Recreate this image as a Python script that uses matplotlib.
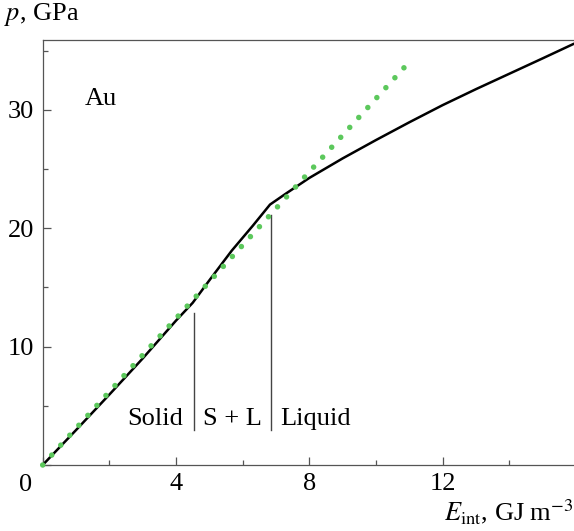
import matplotlib
matplotlib.use("Agg")
import matplotlib.pyplot as plt
from matplotlib.ticker import FixedLocator

plt.rcParams["font.family"] = ["Liberation Serif", "DejaVu Serif"]
plt.rcParams["mathtext.fontset"] = "stix"

# Measured pressure vs internal energy (Au)
e_meas = [0.0, 1.0, 2.0, 3.0, 3.5, 4.0, 4.5, 5.0, 5.67, 6.3, 6.82, 7.32,
          8.0, 9.0, 10.0, 11.0, 12.0, 13.0, 14.0, 15.0, 15.95]
p_meas = [0.0, 2.95, 5.95, 9.0, 10.6, 12.2, 13.7, 15.6, 18.1, 20.2, 22.0,
          22.97, 24.25, 25.9, 27.45, 28.95, 30.4, 31.75, 33.05, 34.35, 35.6]

# Linear (Grueneisen) reference line
e_lin = [0.0, 10.86]
p_lin = [0.0, 33.62]

# Phase boundaries: solid / S+L and S+L / liquid
boundary_e = [4.54, 6.85]
boundary_top = [12.82, 21.13]
boundary_bottom = 2.96

phase_labels = ["Solid", "S + L", "Liquid"]
phase_e = [4.22, 5.68, 7.12]

x_major = [0, 4, 8, 12]
x_minor = [2, 6, 10, 14]
y_major = [0, 10, 20, 30]
y_minor = [5, 15, 25, 35]

W, H = 574, 531
fig = plt.figure(figsize=(W / 100, H / 100), dpi=100)
ax = fig.add_axes([42.7 / W, 1 - 465 / H, 1 - 42.7 / W, 425 / H])

spine_c = "#555555"
for s in ["left", "bottom", "top"]:
    ax.spines[s].set_color(spine_c)
    ax.spines[s].set_linewidth(0.9)
ax.spines["right"].set_visible(False)

ax.set_xlim(0, 15.94)
ax.set_ylim(0, 35.9)

ax.plot(e_meas, p_meas, color="black", lw=1.8, zorder=3, clip_on=False,
        solid_capstyle="butt", solid_joinstyle="round")
ax.plot(e_lin, p_lin, color="#5cc85c", lw=4.0, linestyle=(0, (0.001, 2.415)),
        dash_capstyle="round", zorder=4, clip_on=False)

for e, top in zip(boundary_e, boundary_top):
    ax.plot([e, e], [boundary_bottom, top], color="#444444", lw=1.0, zorder=2)

fs = 19
ax.text(phase_e[0], 3.86, phase_labels[0], ha="right", va="center", fontsize=fs)
ax.text(phase_e[1], 3.86, phase_labels[1], ha="center", va="center", fontsize=fs)
ax.text(phase_e[2], 3.86, phase_labels[2], ha="left", va="center", fontsize=fs)
ax.text(1.27, 30.9, "Au", ha="left", va="center", fontsize=fs)

ax.xaxis.set_major_locator(FixedLocator(x_major))
ax.xaxis.set_minor_locator(FixedLocator(x_minor))
ax.yaxis.set_major_locator(FixedLocator(y_major))
ax.yaxis.set_minor_locator(FixedLocator(y_minor))
ax.set_xticklabels([""] + [str(v) for v in x_major[1:]])
ax.set_yticklabels([""] + [str(v) for v in y_major[1:]])
ax.tick_params(which="both", direction="in", color=spine_c, width=0.9,
               labelsize=fs, top=False, right=False)
ax.tick_params(which="major", length=5.5, pad=6)
ax.tick_params(which="minor", length=3.5)

fig.text(26 / W, 1 - 485 / H, "0", ha="center", va="center", fontsize=fs)
fig.text(4 / W, 1 - 14 / H, "$p$, GPa", ha="left", va="center", fontsize=fs)
fig.text(1.0, 1 - 512 / H, r"$E_{\mathrm{int}}$, GJ m$^{-3}$", ha="right",
         va="center", fontsize=fs)

fig.savefig("out.png", dpi=100)
